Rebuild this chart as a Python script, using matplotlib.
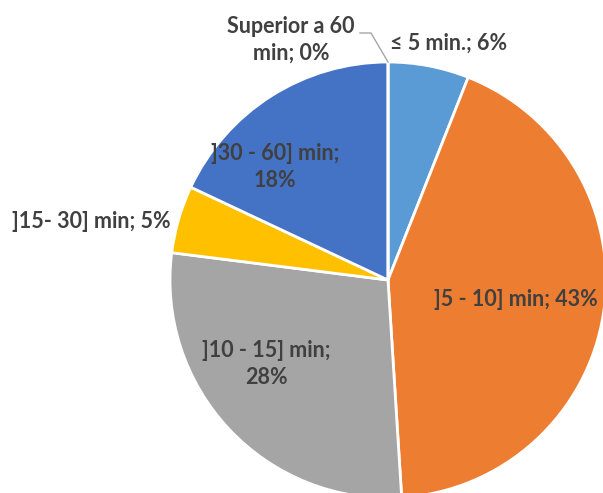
import matplotlib
matplotlib.use("Agg")
import matplotlib.pyplot as plt

categories = ["≤ 5 min.", "]5 - 10] min", "]10 - 15] min", "]15- 30] min", "]30 - 60] min", "Superior a 60 min"]
shares = [6, 43, 28, 5, 18, 0]
label_texts = ["≤ 5 min.; 6%", "]5 - 10] min; 43%", "]10 - 15] min;\n28%",
               "]15- 30] min; 5%", "]30 - 60] min;\n18%", "Superior a 60\nmin; 0%"]
colors = ["#5B9BD5", "#ED7D31", "#A5A5A5", "#FFC000", "#4472C4", "#70AD47"]

W, H = 603, 493
fig = plt.figure(figsize=(W / 100, H / 100), dpi=100)
ax = fig.add_axes([0, 0, 1, 1])

cx, cy, r = 388, H - 280, 218
ax.pie(shares, colors=colors, startangle=90, counterclock=False,
       center=(cx, cy), radius=r, frame=True,
       wedgeprops=dict(edgecolor="white", linewidth=2))
ax.set_xlim(0, W)
ax.set_ylim(0, H)
ax.set_aspect("equal")
ax.axis("off")

# label anchor points (pixel coords from top-left)
label_pos = [(449, 43), (516, 300), (266, 364), (91, 222), (275, 167), (291, 40)]
font = dict(family=["Lato", "DejaVu Sans"], fontsize=15.5,
            fontweight="bold", color="#404040", ha="center", va="center",
            linespacing=1.3)
for txt, (px, py) in zip(label_texts, label_pos):
    ax.text(px, H - py, txt, **font)

# leader line for the empty slice
ax.plot([360, 371, 388], [H - 33, H - 33, H - 62], color="#A6A6A6", lw=1)

fig.savefig("out.png", dpi=100)
